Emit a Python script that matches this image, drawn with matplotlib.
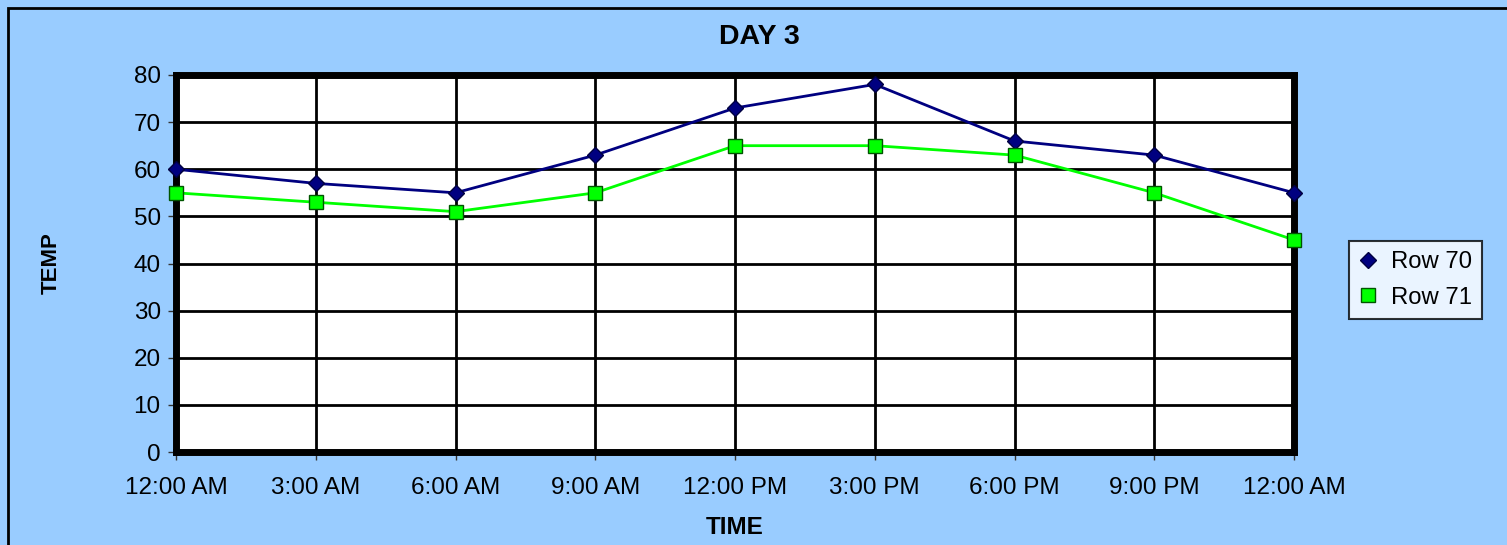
import matplotlib.pyplot as plt
from matplotlib.patches import Rectangle

# data
times = ["12:00 AM", "3:00 AM", "6:00 AM", "9:00 AM", "12:00 PM",
         "3:00 PM", "6:00 PM", "9:00 PM", "12:00 AM"]
row70 = [60, 57, 55, 63, 73, 78, 66, 63, 55]
row71 = [55, 53, 51, 55, 65, 65, 63, 55, 45]
yticks = [0, 10, 20, 30, 40, 50, 60, 70, 80]

plt.rcParams["font.family"] = ["Liberation Sans", "DejaVu Sans"]

BG = "#99CCFF"
fig = plt.figure(figsize=(15.07, 5.45), dpi=100, facecolor=BG)
ax = fig.add_axes([0.1168, 0.1706, 0.7419, 0.6918])
ax.set_facecolor("white")

# outer chart border (top and left edges visible)
fig.patches.append(Rectangle((8 / 1507, -0.1), 1.2, 1 - 8 / 545 + 0.1,
                             transform=fig.transFigure, fill=False,
                             edgecolor="black", linewidth=2, zorder=0))

x = list(range(len(times)))
ax.plot(x, row70, color="#000080", linewidth=2, marker="D", markersize=8,
        markerfacecolor="#000080", markeredgecolor="#000040",
        label="Row 70", zorder=4, clip_on=False)
ax.plot(x, row71, color="#00FF00", linewidth=2, marker="s", markersize=10,
        markerfacecolor="#00FF00", markeredgecolor="#005500",
        markeredgewidth=1, label="Row 71", zorder=4, clip_on=False)

ax.set_xlim(0, 8)
ax.set_ylim(0, 80)
ax.set_xticks(x)
ax.set_xticklabels(times)
ax.set_yticks(yticks)
ax.grid(True, color="black", linewidth=2)
ax.set_axisbelow(True)
for sp in ax.spines.values():
    sp.set_linewidth(5)
    sp.set_color("black")
ax.tick_params(axis="both", labelsize=17.5, length=6, width=1,
               direction="out", color="#333333")
ax.tick_params(axis="x", pad=12)
ax.tick_params(axis="y", pad=5)

# title is centred on the whole chart, not the plot area
fig.text(0.504, 0.932, "DAY 3", fontsize=20.5, fontweight="bold",
         ha="center", va="center")
ax.set_xlabel("TIME", fontsize=17.5, fontweight="bold", labelpad=12)
ax.set_ylabel("TEMP", fontsize=16, fontweight="bold", labelpad=52)

leg = fig.legend(loc="center", bbox_to_anchor=(0.9393, 0.4862), fontsize=17.2,
                 frameon=True, fancybox=False, edgecolor="black",
                 handlelength=0.7, handletextpad=0.6, borderpad=0.45,
                 labelspacing=0.55, borderaxespad=0)
leg.get_frame().set_linewidth(1.5)
for line in leg.get_lines():
    line.set_linestyle("none")

fig.savefig("out.png", dpi=100, facecolor=BG)
